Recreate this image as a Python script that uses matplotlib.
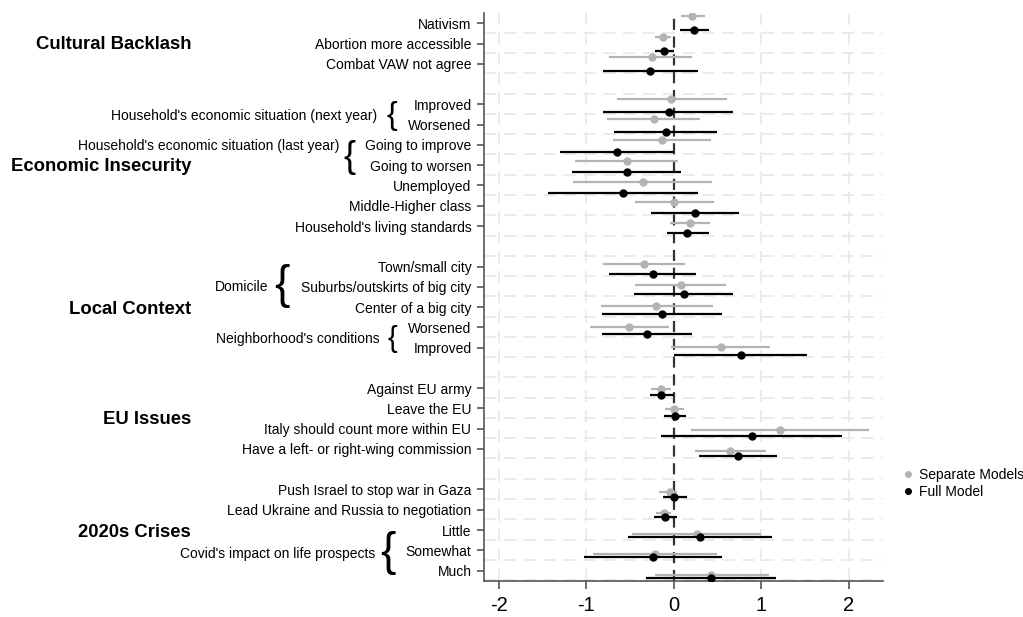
import matplotlib
matplotlib.use("Agg")
import matplotlib.pyplot as plt
import matplotlib.transforms as mtransforms
from matplotlib.lines import Line2D
import numpy as np

plt.rcParams['font.family'] = ['Liberation Sans', 'DejaVu Sans']

# rows of the coefficient plot (top to bottom), gaps between blocks are empty rows
labels = ["Nativism", "Abortion more accessible", "Combat VAW not agree",
          "Improved", "Worsened", "Going to improve", "Going to worsen",
          "Unemployed", "Middle-Higher class", "Household's living standards",
          "Town/small city", "Suburbs/outskirts of big city", "Center of a big city",
          "Worsened", "Improved",
          "Against EU army", "Leave the EU", "Italy should count more within EU",
          "Have a left- or right-wing commission",
          "Push Israel to stop war in Gaza", "Lead Ukraine and Russia to negotiation",
          "Little", "Somewhat", "Much"]
rows = [0, 1, 2, 4, 5, 6, 7, 8, 9, 10, 12, 13, 14, 15, 16, 18, 19, 20, 21, 23, 24, 25, 26, 27]

# separate models (grey)
sep_est = [0.21, -0.13, -0.25, -0.03, -0.23, -0.14, -0.54, -0.35, 0.00, 0.18,
           -0.34, 0.08, -0.20, -0.51, 0.54, -0.15, 0.00, 1.21, 0.64,
           -0.05, -0.11, 0.26, -0.22, 0.42]
sep_lo = [0.08, -0.22, -0.74, -0.65, -0.76, -0.70, -1.13, -1.15, -0.45, -0.04,
          -0.81, -0.44, -0.83, -0.96, -0.03, -0.26, -0.10, 0.20, 0.24,
          -0.17, -0.21, -0.48, -0.92, -0.22]
sep_hi = [0.35, -0.03, 0.21, 0.61, 0.30, 0.42, 0.05, 0.44, 0.46, 0.41,
          0.13, 0.60, 0.45, -0.06, 1.10, -0.03, 0.11, 2.23, 1.05,
          0.03, -0.03, 1.00, 0.49, 1.09]

# full model (black)
full_est = [0.23, -0.11, -0.27, -0.06, -0.09, -0.65, -0.54, -0.58, 0.24, 0.15,
            -0.24, 0.11, -0.14, -0.31, 0.77, -0.15, 0.01, 0.89, 0.73,
            0.00, -0.10, 0.30, -0.24, 0.42]
full_lo = [0.07, -0.22, -0.81, -0.81, -0.68, -1.30, -1.16, -1.44, -0.26, -0.08,
           -0.74, -0.46, -0.82, -0.82, 0.00, -0.27, -0.11, -0.15, 0.29,
           -0.13, -0.23, -0.52, -1.03, -0.32]
full_hi = [0.40, 0.00, 0.28, 0.68, 0.49, 0.00, 0.08, 0.28, 0.74, 0.40,
           0.25, 0.67, 0.55, 0.21, 1.52, 0.00, 0.14, 1.92, 1.18,
           0.15, 0.03, 1.12, 0.55, 1.17]

groups = ["Cultural Backlash", "Economic Insecurity", "Local Context", "EU Issues", "2020s Crises"]
group_rows = [1.02, 7.07, 14.1, 19.57, 25.1]

sub_labels = ["Household's economic situation (next year)", "Household's economic situation (last year)",
              "Domicile", "Neighborhood's conditions", "Covid's impact on life prospects"]
sub_rows = [4.56, 6.04, 13.0, 15.55, 26.2]
sub_right = [376.7, 339, 268, 380, 375]
brace_rows = [4.57, 6.62, 12.98, 15.55, 26.15]
brace_x = [392, 349, 281.5, 392.5, 387.5]
brace_size = [23, 26, 33, 21, 33]

W, H = 1023, 617
fig = plt.figure(figsize=(W / 100, H / 100), dpi=100)
ax = fig.add_axes([484 / W, 1 - 580.7 / H, (883 - 484) / W, (580.7 - 13) / H])

rows_a = np.array(rows, dtype=float)
y_full = rows_a + 0.35
y_sep = rows_a * 1.022 - 0.37

# grid
for r in range(28):
    ax.axhline(r + 0.47, color='#e6e6e6', lw=1.1, ls=(0, (8, 5)), zorder=0)
for xv in [-2, -1, 1, 2]:
    ax.axvline(xv, color='#e6e6e6', lw=1.1, ls=(0, (8, 5)), zorder=0)
ax.axvline(0, color='#333333', lw=1.6, ls=(0, (5, 3)), zorder=1)

gray = '#b3b3b3'
ax.hlines(y_sep, sep_lo, sep_hi, color=gray, lw=1.6, zorder=2)
ax.plot(sep_est, y_sep, 'o', color=gray, ms=5, zorder=3)
ax.hlines(y_full, full_lo, full_hi, color='black', lw=1.6, zorder=4)
ax.plot(full_est, y_full, 'o', color='black', ms=5, zorder=5)

ax.set_xlim(-2.171, 2.389)
ax.set_ylim(27.5, -0.51)
ax.set_yticks(rows)
ax.set_yticklabels(labels)
ax.set_xticks([-2, -1, 0, 1, 2])
ax.set_xticklabels(['-2', '-1', '0', '1', '2'])
ax.tick_params(axis='y', length=5, width=1.2, pad=4, labelsize=10, color='#555555')
ax.tick_params(axis='x', length=6, width=1.2, pad=5, labelsize=14.5, color='#555555')
for s in ['top', 'right']:
    ax.spines[s].set_visible(False)
for s in ['left', 'bottom']:
    ax.spines[s].set_color('#555555')
    ax.spines[s].set_linewidth(1.2)

trans = mtransforms.blended_transform_factory(fig.transFigure, ax.transData)
for g, r in zip(groups, group_rows):
    fig.text(191 / W, r, g, transform=trans, ha='right', va='center',
             fontsize=13.3, fontweight='bold')
for s, r, xr in zip(sub_labels, sub_rows, sub_right):
    fig.text(xr / W, r, s, transform=trans, ha='right', va='center', fontsize=10)
for r, xb, fs in zip(brace_rows, brace_x, brace_size):
    fig.text(xb / W, r, '{', transform=trans, ha='center', va='center',
             fontsize=fs, fontweight='light')

handles = [Line2D([], [], ls='none', marker='o', color=gray, ms=4),
           Line2D([], [], ls='none', marker='o', color='black', ms=4)]
fig.legend(handles, ['Separate Models', 'Full Model'], loc='center left',
           bbox_to_anchor=(904 / W, 1 - 483.4 / H), frameon=False, fontsize=10,
           handlelength=0.6, handletextpad=0.5, labelspacing=0.2,
           borderpad=0, borderaxespad=0)

plt.savefig("out.png", dpi=100)
